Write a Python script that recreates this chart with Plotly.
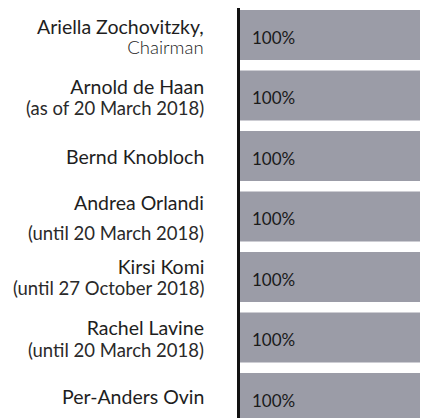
import plotly.graph_objects as go

names = ["Ariella Zochovitzky,", "Arnold de Haan", "Bernd Knobloch", "Andrea Orlandi",
         "Kirsi Komi", "Rachel Lavine", "Per-Anders Ovin"]
notes = ["Chairman", "(as of 20 March 2018)", "", "(until 20 March 2018)",
         "(until 27 October 2018)", "(until 20 March 2018)", ""]
attendance = [100, 100, 100, 100, 100, 100, 100]
value_labels = ["100%"] * 7

# layout: vertical nudge of each label block and the gap between its two lines (px)
label_shift = [-1.5, -1.5, 0, -1, 0.5, -0.5, 2]
line_gap = [20, 21, 20, 30, 21.3, 22, 20]

FONT = "Lato"
idx = list(range(len(names)))

fig = go.Figure(go.Bar(
    x=attendance, y=idx, orientation="h",
    marker=dict(color="#9b9ca7", line=dict(width=0)),
    width=0.826,
    hoverinfo="skip",
))

ann = []
for i in idx:
    txt = f"<span style='font-size:19.5px;color:#1e1e1e'>{names[i]}</span>"
    if notes[i]:
        if i == 0:
            style = "font-size:18.5px;color:#222222;font-weight:300"
        else:
            style = "font-size:18.5px;color:#2a2a2a"
        txt += f"<br><span style='{style}'>{notes[i]}</span>"
    ann.append(dict(x=0, xref="paper", y=i, yref="y", text=txt, showarrow=False,
                    xanchor="right", yanchor="middle", align="right",
                    xshift=-34, yshift=label_shift[i],
                    font=dict(family=FONT, size=line_gap[i] / 1.3, color="#1e1e1e")))
    ann.append(dict(x=0, xref="x", y=i, yref="y", text=value_labels[i], showarrow=False,
                    xanchor="left", yanchor="middle", xshift=10, yshift=-2,
                    font=dict(family=FONT, size=17, color="#1a1a1a")))

fig.update_layout(
    width=420, height=410,
    margin=dict(l=232, r=0, t=0, b=0),
    paper_bgcolor="white", plot_bgcolor="white",
    showlegend=False, annotations=ann,
    xaxis=dict(range=[0, 100], visible=False, fixedrange=True),
    yaxis=dict(range=[6.3306, -0.4463], showticklabels=False, showgrid=False,
               zeroline=False, showline=True, linecolor="#111111", linewidth=2.5,
               ticks=""),
)
fig.write_html("out.html")
